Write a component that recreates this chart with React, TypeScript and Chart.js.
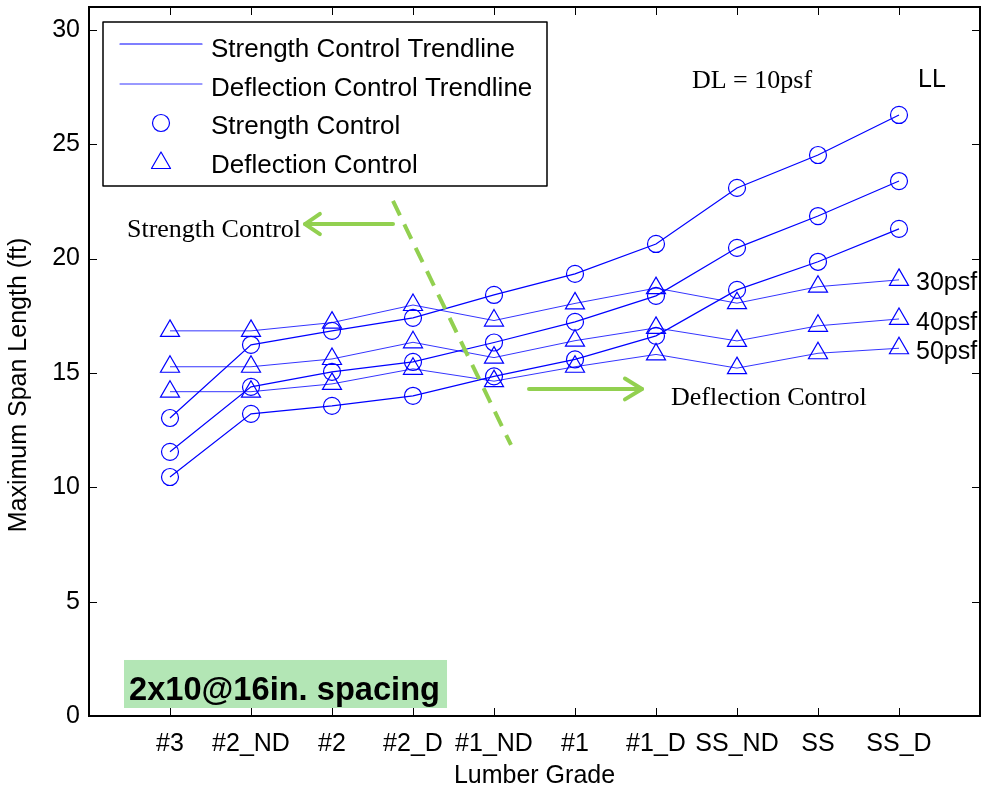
import React, { useEffect, useRef } from "react";
import { Chart, registerables } from "chart.js";

Chart.register(...registerables);

// ---------- data ----------
const grades = ["#3", "#2_ND", "#2", "#2_D", "#1_ND", "#1", "#1_D", "SS_ND", "SS", "SS_D"];
const liveLoadLabels = ["30psf", "40psf", "50psf"];
const yTickValues = [0, 5, 10, 15, 20, 25, 30];

// Strength control (circles) per live load
const strength30 = [13.03, 16.23, 16.84, 17.41, 18.41, 19.33, 20.64, 23.09, 24.53, 26.28];
const strength40 = [11.55, 14.39, 15.05, 15.48, 16.33, 17.23, 18.37, 20.47, 21.86, 23.39];
const strength50 = [10.45, 13.21, 13.56, 14.0, 14.85, 15.59, 16.62, 18.63, 19.86, 21.3];

// Deflection control (triangles) per live load
const deflection30 = [16.84, 16.84, 17.2, 17.97, 17.29, 18.04, 18.71, 18.05, 18.77, 19.07];
const deflection40 = [15.27, 15.27, 15.61, 16.34, 15.67, 16.41, 16.97, 16.4, 17.06, 17.36];
const deflection50 = [14.18, 14.18, 14.52, 15.18, 14.64, 15.27, 15.81, 15.21, 15.86, 16.08];

const legendLabels = [
  "Strength Control Trendline",
  "Deflection Control Trendline",
  "Strength Control",
  "Deflection Control",
];

// ---------- styles ----------
const BLUE = "#0000ff";
const GREEN = "#92d050";
const BOX_GREEN = "#b3e6b5";
const SANS = "'Liberation Sans', Arial, sans-serif";
const SERIF = "'Liberation Serif', 'Times New Roman', serif";

function drawArrow(ctx: CanvasRenderingContext2D, x1: number, y1: number, x2: number, y2: number, hl: number, ha: number) {
  ctx.beginPath();
  ctx.moveTo(x1, y1);
  ctx.lineTo(x2, y2);
  ctx.stroke();
  const ang = Math.atan2(y2 - y1, x2 - x1);
  ctx.beginPath();
  ctx.moveTo(x2 - hl * Math.cos(ang - ha), y2 - hl * Math.sin(ang - ha));
  ctx.lineTo(x2, y2);
  ctx.lineTo(x2 - hl * Math.cos(ang + ha), y2 - hl * Math.sin(ang + ha));
  ctx.stroke();
}

function drawTriangle(ctx: CanvasRenderingContext2D, x: number, y: number, r: number) {
  ctx.beginPath();
  let rad = 0;
  for (let i = 0; i < 3; i++) {
    const px = x + Math.sin(rad) * r;
    const py = y - Math.cos(rad) * r;
    if (i === 0) ctx.moveTo(px, py);
    else ctx.lineTo(px, py);
    rad += (2 * Math.PI) / 3;
  }
  ctx.closePath();
  ctx.stroke();
}

const annotationPlugin = {
  id: "annotations",
  afterDatasetsDraw(chart: any) {
    const ctx: CanvasRenderingContext2D = chart.ctx;
    const xs = chart.scales.x;
    const ys = chart.scales.y;
    const px = (v: number) => xs.getPixelForValue(v);
    const py = (v: number) => ys.getPixelForValue(v);
    ctx.save();

    // green dashed divider
    ctx.strokeStyle = GREEN;
    ctx.lineWidth = 4;
    ctx.setLineDash([16, 10]);
    ctx.beginPath();
    ctx.moveTo(px(3.753), py(22.52));
    ctx.lineTo(px(5.21), py(11.85));
    ctx.stroke();
    ctx.setLineDash([]);

    // arrows
    ctx.lineCap = "round";
    ctx.lineJoin = "round";
    drawArrow(ctx, px(3.753), py(21.51), px(2.667), py(21.51), 18, 0.6);
    drawArrow(ctx, px(5.432), py(14.3), px(6.827), py(14.3), 20, 0.55);

    // serif annotations
    ctx.fillStyle = "#000";
    ctx.textAlign = "left";
    ctx.textBaseline = "alphabetic";
    ctx.font = `26px ${SERIF}`;
    ctx.fillText("Strength Control", px(0.469), py(20.94));
    ctx.fillText("Deflection Control", px(7.185), py(13.6));
    ctx.fillText("DL = 10psf", px(7.444), py(27.46));

    // sans annotations
    ctx.font = `25px ${SANS}`;
    ctx.fillText("LL", px(10.235), py(27.5));
    const psfY = [18.63, 16.88, 15.61];
    liveLoadLabels.forEach((t, i) => ctx.fillText(t, px(10.21), py(psfY[i])));

    // green label box
    const bx1 = px(0.432), bx2 = px(4.42), by1 = py(2.449), by2 = py(0.35);
    ctx.fillStyle = BOX_GREEN;
    ctx.fillRect(bx1, by1, bx2 - bx1, by2 - by1);
    ctx.fillStyle = "#000";
    ctx.font = `bold 34px ${SANS}`;
    const label = "2x10@16in. spacing";
    const w = ctx.measureText(label).width;
    const target = 311;
    ctx.save();
    ctx.translate(bx1 + 5, py(0.7));
    ctx.scale(target / w, 1);
    ctx.fillText(label, 0, 0);
    ctx.restore();

    // legend
    const L = 103, T = 22, R = 547, B = 186;
    ctx.fillStyle = "#fff";
    ctx.fillRect(L, T, R - L, B - T);
    ctx.strokeStyle = "#000";
    ctx.lineWidth = 1.5;
    ctx.strokeRect(L, T, R - L, B - T);
    ctx.strokeStyle = BLUE;
    ctx.lineWidth = 1.2;
    ctx.beginPath();
    ctx.moveTo(120, 44);
    ctx.lineTo(202, 44);
    ctx.stroke();
    ctx.lineWidth = 0.8;
    ctx.beginPath();
    ctx.moveTo(120, 84);
    ctx.lineTo(202, 84);
    ctx.stroke();
    ctx.lineWidth = 1.2;
    ctx.beginPath();
    ctx.arc(161, 123, 8.5, 0, Math.PI * 2);
    ctx.stroke();
    drawTriangle(ctx, 161, 163, 11);
    ctx.fillStyle = "#000";
    ctx.font = `26px ${SANS}`;
    const baselines = [57, 96, 134, 173];
    legendLabels.forEach((t, i) => ctx.fillText(t, 211, baselines[i]));

    ctx.restore();
  },
  afterDraw(chart: any) {
    const ctx: CanvasRenderingContext2D = chart.ctx;
    const a = chart.chartArea;
    const xs = chart.scales.x;
    const ys = chart.scales.y;
    ctx.save();
    ctx.strokeStyle = "#000";
    ctx.lineWidth = 1;
    const tl = 8;
    ctx.beginPath();
    grades.forEach((_, i) => {
      const x = Math.round(xs.getPixelForValue(i + 1)) + 0.5;
      ctx.moveTo(x, a.bottom);
      ctx.lineTo(x, a.bottom - tl);
      ctx.moveTo(x, a.top);
      ctx.lineTo(x, a.top + tl);
    });
    yTickValues.forEach((v) => {
      const y = Math.round(ys.getPixelForValue(v)) + 0.5;
      ctx.moveTo(a.left, y);
      ctx.lineTo(a.left + tl, y);
      ctx.moveTo(a.right, y);
      ctx.lineTo(a.right - tl, y);
    });
    ctx.stroke();
    ctx.lineWidth = 2;
    ctx.strokeRect(a.left, a.top, a.right - a.left, a.bottom - a.top);

    // axis titles
    ctx.fillStyle = "#000";
    ctx.font = `25px ${SANS}`;
    ctx.textAlign = "center";
    ctx.textBaseline = "middle";
    ctx.fillText("Lumber Grade", (a.left + a.right) / 2, 776);
    ctx.save();
    ctx.translate(19, 385);
    ctx.rotate(-Math.PI / 2);
    ctx.fillText("Maximum Span Length (ft)", 0, 0);
    ctx.restore();
    ctx.restore();
  },
};

export default function App() {
  const ref = useRef<HTMLCanvasElement>(null);
  useEffect(() => {
    const canvas = ref.current;
    if (!canvas) return;
    const xy = (vals: number[]) => vals.map((v, i) => ({ x: i + 1, y: v }));
    const strength = [strength30, strength40, strength50].map((vals, i) => ({
      label: `Strength Control ${liveLoadLabels[i]}`,
      data: xy(vals),
      borderColor: BLUE,
      borderWidth: 1.2,
      pointStyle: "circle",
      pointRadius: 8.5,
      pointBorderColor: BLUE,
      pointBackgroundColor: "rgba(0,0,0,0)",
      pointBorderWidth: 1.2,
      fill: false,
      tension: 0,
    }));
    const deflection = [deflection30, deflection40, deflection50].map((vals, i) => ({
      label: `Deflection Control ${liveLoadLabels[i]}`,
      data: xy(vals),
      borderColor: BLUE,
      borderWidth: 0.8,
      pointStyle: "triangle",
      pointRadius: 11,
      pointBorderColor: BLUE,
      pointBackgroundColor: "rgba(0,0,0,0)",
      pointBorderWidth: 1.2,
      fill: false,
      tension: 0,
    }));
    const chart = new Chart(canvas, {
      type: "line",
      data: { datasets: [...deflection, ...strength] as any },
      options: {
        animation: false,
        responsive: false,
        devicePixelRatio: 1,
        layout: { autoPadding: false, padding: { top: 7, right: 4, left: 0, bottom: 0 } },
        plugins: { legend: { display: false }, tooltip: { enabled: false } },
        scales: {
          x: {
            type: "linear",
            min: 0,
            max: 11,
            grid: { display: false, drawTicks: false },
            border: { display: false },
            afterBuildTicks: (s: any) => {
              s.ticks = grades.map((_, i) => ({ value: i + 1 }));
            },
            afterFit: (s: any) => {
              s.height = 77;
              s.paddingLeft = 0;
              s.paddingRight = 0;
              s.paddingTop = 0;
              s.paddingBottom = 0;
            },
            ticks: {
              autoSkip: false,
              maxRotation: 0,
              padding: 13,
              color: "#000",
              font: { family: SANS, size: 25 },
              callback: (v: any) => grades[Number(v) - 1] ?? "",
            },
          },
          y: {
            type: "linear",
            min: 0,
            max: 31,
            grid: { display: false, drawTicks: false },
            border: { display: false },
            afterBuildTicks: (s: any) => {
              s.ticks = yTickValues.map((v) => ({ value: v }));
            },
            afterFit: (s: any) => {
              s.width = 89;
              s.paddingLeft = 0;
              s.paddingRight = 0;
              s.paddingTop = 0;
              s.paddingBottom = 0;
            },
            ticks: {
              padding: 9,
              color: "#000",
              font: { family: SANS, size: 25 },
            },
          },
        },
      },
      plugins: [annotationPlugin],
    });
    return () => chart.destroy();
  }, []);
  return (
    <div style={{ position: "fixed", left: 0, top: 0, width: 984, height: 793, background: "#fff" }}>
      <canvas ref={ref} width={984} height={793} style={{ display: "block" }} />
    </div>
  );
}
